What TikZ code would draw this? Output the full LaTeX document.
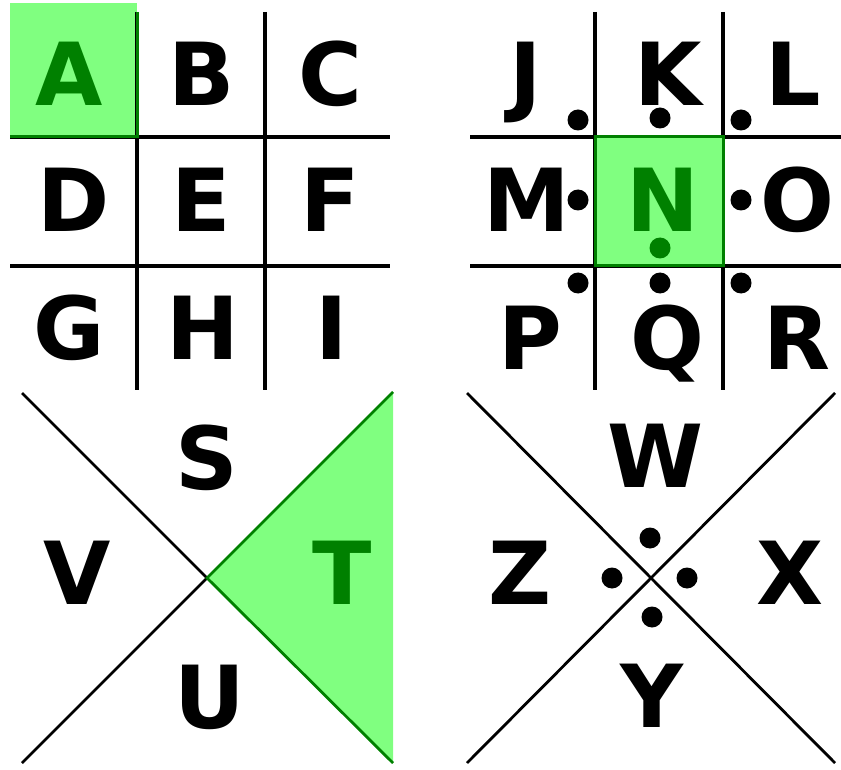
\documentclass[tikz,border=0pt]{standalone}
\usepackage{fontspec}
\setmainfont{DejaVu Sans}
\definecolor{lgreen}{RGB}{128,255,128}
\definecolor{dgreen}{RGB}{0,128,0}
\begin{document}
\begin{tikzpicture}[x=1pt,y=-1pt,
  grid/.style={line width=3.5pt,black},
  cross/.style={line width=2.8pt,black},
  hl/.style={fill=lgreen,draw=dgreen,line width=3pt},
  let/.style={font=\fontsize{87}{87}\selectfont\bfseries,anchor=base,inner sep=0pt},
  glet/.style={let,text=dgreen},
  dot/.style={circle,fill=black,inner sep=0pt,minimum size=21pt}]
\useasboundingbox (0,0) rectangle (841,770);
% ---------- top-left grid ----------
\fill[lgreen] (10,3) rectangle (137,137);
\draw[grid] (137,12) -- (137,390);
\draw[grid] (265,12) -- (265,390);
\draw[grid] (10,137) -- (390,137);
\draw[grid] (10,266) -- (390,266);
\draw[dgreen,line width=3pt] (10,137) -- (137,137) -- (137,12);
\node[glet] (A) at (69,106) {A};
\node[let] (B) at (202,106) {B};
\node[let] (C) at (330,106) {C};
\node[let] (D) at (74,232) {D};
\node[let] (E) at (201,232) {E};
\node[let] (F) at (330,232) {F};
\node[let] (G) at (69,359) {G};
\node[let] (H) at (203,359) {H};
\node[let] (I) at (332,359) {I};
% ---------- top-right grid ----------
\draw[grid] (595,12) -- (595,390);
\draw[grid] (723,12) -- (723,390);
\draw[grid] (470,137) -- (841,137);
\draw[grid] (470,266) -- (841,266);
\draw[hl] (595,137) rectangle (723,266);
\node[let] (J) at (526,106) {J};
\node[let] (K) at (668,106) {K};
\node[let] (L) at (793,106) {L};
\node[let] (M) at (527,232) {M};
\node[glet] (N) at (663,232) {N};
\node[let] (O) at (797,232) {O};
\node[let] (P) at (530,369) {P};
\node[let] (Q) at (667,369) {Q};
\node[let] (R) at (797,369) {R};
\node[dot] (dJ) at (578,120) {};
\node[dot] (dK) at (660,118) {};
\node[dot] (dL) at (741,120) {};
\node[dot] (dM) at (578,200) {};
\node[dot,fill=dgreen] (dN) at (660,248) {};
\node[dot] (dO) at (741,200) {};
\node[dot] (dP) at (578,283) {};
\node[dot] (dQ) at (660,283) {};
\node[dot] (dR) at (741,283) {};
% ---------- bottom-left X ----------
\coordinate (c1) at (207,578);
\coordinate (tl1) at (22,393);
\coordinate (bl1) at (22,763);
\coordinate (tr1) at (393,392);
\coordinate (br1) at (393,763);
\fill[lgreen] (c1) -- (tr1) -- (br1) -- cycle;
\draw[cross] (tl1) -- (c1) -- (bl1);
\draw[cross,dgreen] (tr1) -- (c1) -- (br1);
\node[let] (S) at (207,489) {S};
\node[let] (V) at (77,604) {V};
\node[glet] (T) at (342,604) {T};
\node[let] (U) at (210,728) {U};
% ---------- bottom-right X ----------
\coordinate (tl2) at (467,393);
\coordinate (br2) at (835,763);
\coordinate (tr2) at (835,393);
\coordinate (bl2) at (467,763);
\draw[cross] (tl2) -- (br2);
\draw[cross] (tr2) -- (bl2);
\node[let] (W) at (655,487) {W};
\node[let] (Z) at (520,604) {Z};
\node[let] (X) at (790,604) {X};
\node[let] (Y) at (652,727) {Y};
\node[dot] (dW) at (650,538) {};
\node[dot] (dZ) at (612,578) {};
\node[dot] (dX) at (687,578) {};
\node[dot] (dY) at (652,617) {};
\end{tikzpicture}
\end{document}
